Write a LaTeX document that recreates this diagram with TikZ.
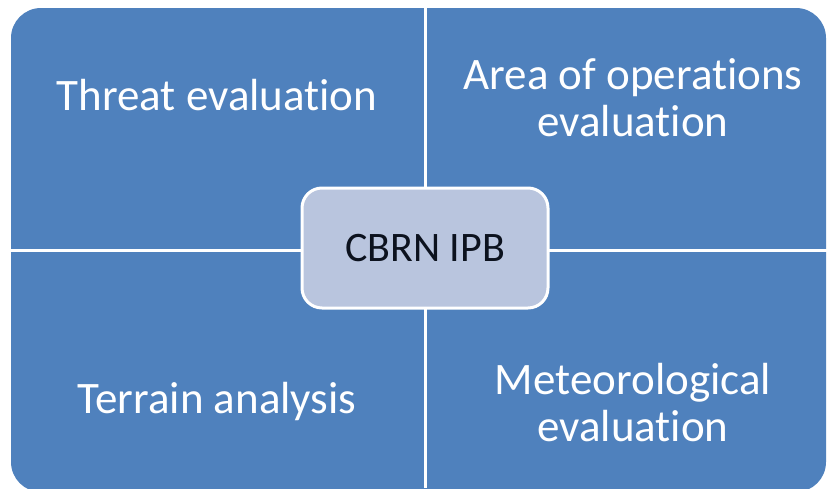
\documentclass[tikz,border=0pt]{standalone}
\usepackage{fontspec}
\setmainfont[Ligatures=NoCommon]{Carlito}
\usetikzlibrary{positioning}
\definecolor{quadblue}{RGB}{79,129,189}
\definecolor{hubfill}{RGB}{185,197,222}
\definecolor{hubtext}{RGB}{12,18,30}

\begin{document}
\begin{tikzpicture}[
  x=1pt, y=-1pt,
  quad/.style={text=white, font=\fontsize{45}{47}\selectfont, align=center,
               inner sep=0pt},
  hub/.style={draw=white, fill=hubfill, line width=3pt, rounded corners=20pt,
              minimum width=246pt, minimum height=120pt, inner sep=0pt,
              text=hubtext, font=\fontsize{42}{48}\selectfont},
  split/.style={draw=white, line width=3pt},
]
\useasboundingbox (0,0) rectangle (828,488);
\begin{scope}
\clip (0,0) rectangle (828,488);
\fill[quadblue, rounded corners=30pt] (11,8) rectangle (826,492);
\end{scope}

% dividing lines
\coordinate (top) at (425,8);
\coordinate (bottom) at (425,488);
\coordinate (left) at (11,250);
\coordinate (right) at (828,250);
\draw[split] (top) -- (bottom);
\draw[split] (left) -- (right);

% quadrant texts
\node[quad, anchor=base] (threat) at (217,110) {Threat evaluation};
\node[quad, anchor=base] (terrain) at (217,413) {Terrain analysis};
\node[quad] (area) at (633,98) {Area of operations\\evaluation};
\node[quad] (meteo) at (633,403) {Meteorological\\evaluation};

\node[hub] (ipb) at (425,248) {CBRN IPB};
\end{tikzpicture}
\end{document}
